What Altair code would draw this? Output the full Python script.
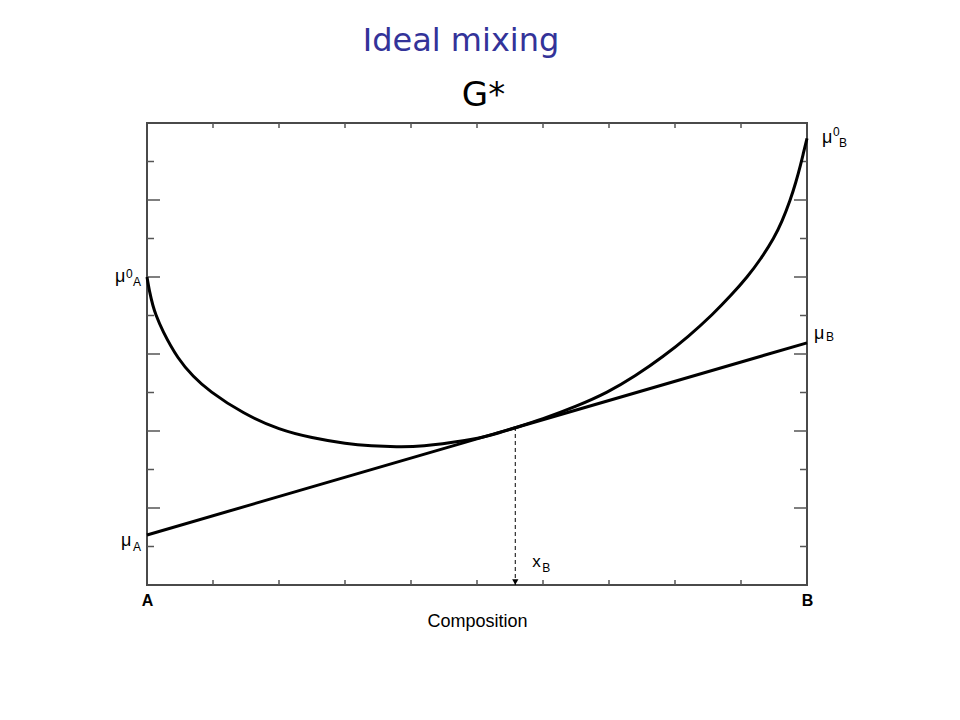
import altair as alt
import pandas as pd

# ---- data ----
comp = [0.000, 0.004, 0.009, 0.014, 0.025, 0.047, 0.070, 0.098, 0.146, 0.200,
        0.250, 0.300, 0.340, 0.378, 0.420, 0.479, 0.520, 0.558, 0.600, 0.650,
        0.697, 0.740, 0.782, 0.820, 0.856, 0.885, 0.909, 0.930, 0.949, 0.962,
        0.974, 0.983, 0.990, 0.995, 1.000]
g_curve = [8.00, 7.62, 7.26, 7.00, 6.57, 5.91, 5.43, 5.01, 4.48, 4.06,
           3.83, 3.68, 3.615, 3.59, 3.615, 3.745, 3.89, 4.085, 4.32, 4.645,
           5.01, 5.44, 5.94, 6.46, 7.02, 7.53, 8.00, 8.48, 9.00, 9.45,
           9.98, 10.46, 10.90, 11.25, 11.60]
tangent_x = [0.0, 1.0]
tangent_y = [1.30, 6.29]
x_b = 0.558
g_at_xb = 4.085
x_ticks = [0.1, 0.2, 0.3, 0.4, 0.5, 0.6, 0.7, 0.8, 0.9]
y_major = [2, 4, 6, 8, 10]
y_minor = [1, 3, 5, 7, 9, 11]

W, H = 660, 462
TICK = "#555555"
FONT = "Liberation Sans"

xscale = alt.Scale(domain=[0, 1], nice=False, zero=False)
yscale = alt.Scale(domain=[0, 12], nice=False, zero=False)
xaxis = alt.Axis(values=[0, 1], labelExpr="datum.value == 0 ? 'A' : 'B'",
                 labelFontWeight="bold", labelFontSize=16, labelFont=FONT,
                 labelColor="black", labelPadding=7, labelFlush=False,
                 ticks=False, domain=False, grid=False,
                 title="Composition", titleFontSize=18, titleFont=FONT,
                 titleFontWeight="normal", titleColor="black",
                 titleX=W / 2, titleY=41, titleAlign="center", titleBaseline="alphabetic")
yaxis = alt.Axis(labels=False, ticks=False, domain=False, grid=False,
                 title="G*", titleAngle=0, titleX=336, titleY=-18,
                 titleFontSize=34, titleFont="DejaVu Sans", titleFontWeight="normal",
                 titleColor="black", titleAlign="center", titleBaseline="alphabetic")

def X():
    return alt.X("x:Q", scale=xscale, axis=xaxis)

def Y():
    return alt.Y("y:Q", scale=yscale, axis=yaxis)

curve_df = pd.DataFrame({"x": comp, "y": g_curve})
tan_df = pd.DataFrame({"x": tangent_x, "y": tangent_y})
xb_df = pd.DataFrame({"x": [x_b], "y": [0.0], "y2": [g_at_xb]})

curve = alt.Chart(curve_df).mark_line(color="black", strokeWidth=3, interpolate="natural").encode(x=X(), y=Y())
tangent = alt.Chart(tan_df).mark_line(color="black", strokeWidth=3).encode(x=X(), y=Y())
dashed = alt.Chart(xb_df).mark_rule(color="black", strokeWidth=1, strokeDash=[4, 3]).encode(
    x=X(), y=Y(), y2="y2:Q")
arrow = alt.Chart(xb_df).mark_point(shape="triangle-down", filled=True, size=40,
                                    color="black", opacity=1, yOffset=-3).encode(x=X(), y=Y())

# tick marks (inward)
xt_df = pd.DataFrame({"x": x_ticks})
ymaj_df = pd.DataFrame({"y": y_major})
ymin_df = pd.DataFrame({"y": y_minor})
tick_layers = [
    alt.Chart(xt_df).mark_rule(color=TICK, strokeWidth=1.5).encode(x=X(), y=alt.value(H), y2=alt.value(H - 5)),
    alt.Chart(xt_df).mark_rule(color=TICK, strokeWidth=1.5).encode(x=X(), y=alt.value(0), y2=alt.value(5)),
    alt.Chart(ymaj_df).mark_rule(color=TICK, strokeWidth=1.5).encode(y=Y(), x=alt.value(0), x2=alt.value(13)),
    alt.Chart(ymin_df).mark_rule(color=TICK, strokeWidth=1.5).encode(y=Y(), x=alt.value(0), x2=alt.value(7)),
    alt.Chart(ymaj_df).mark_rule(color=TICK, strokeWidth=1.5).encode(y=Y(), x=alt.value(W), x2=alt.value(W - 13)),
    alt.Chart(ymin_df).mark_rule(color=TICK, strokeWidth=1.5).encode(y=Y(), x=alt.value(W), x2=alt.value(W - 7)),
]

# annotation labels: (anchor x, anchor y, [(text, dx, dy, size), ...])
ann_x = [0.0, 0.0, 1.0, 1.0, x_b]
ann_y = [g_curve[0], tangent_y[0], g_curve[-1], tangent_y[1], 0.0]
ann_parts = [
    [("μ", -32, 5, 18), ("0", -21, 1, 12), ("A", -14, 9, 12)],
    [("μ", -26, 11, 18), ("A", -14, 16, 12)],
    [("μ", 15, 5, 18), ("0", 26, -2, 12), ("B", 32, 9, 12)],
    [("μ", 7, -4, 18), ("B", 19, -2, 12)],
    [("x", 17, -18, 17), ("B", 27, -13, 12)],
]
label_layers = []
for ax, ay, parts in zip(ann_x, ann_y, ann_parts):
    df = pd.DataFrame({"x": [ax], "y": [ay]})
    for txt, dx, dy, size in parts:
        label_layers.append(
            alt.Chart(df).mark_text(align="left", baseline="alphabetic", dx=dx, dy=dy,
                                    fontSize=size, font=FONT, color="black")
            .encode(x=X(), y=Y(), text=alt.value(txt))
        )

chart = alt.layer(*tick_layers, tangent, curve, dashed, arrow, *label_layers).properties(
    width=W, height=H,
    title=alt.TitleParams("Ideal mixing", fontSize=32, font="DejaVu Sans", color="#333399",
                          fontWeight="normal", anchor="middle", dx=-16, offset=20),
    autosize=alt.AutoSizeParams(type="none"),
    padding={"left": 139, "top": 115, "right": 120, "bottom": 90},
    background="white",
).configure_view(stroke="#4a4a4a", strokeWidth=2)

chart.save("out.html", embed_options={"renderer": "svg", "actions": False})
